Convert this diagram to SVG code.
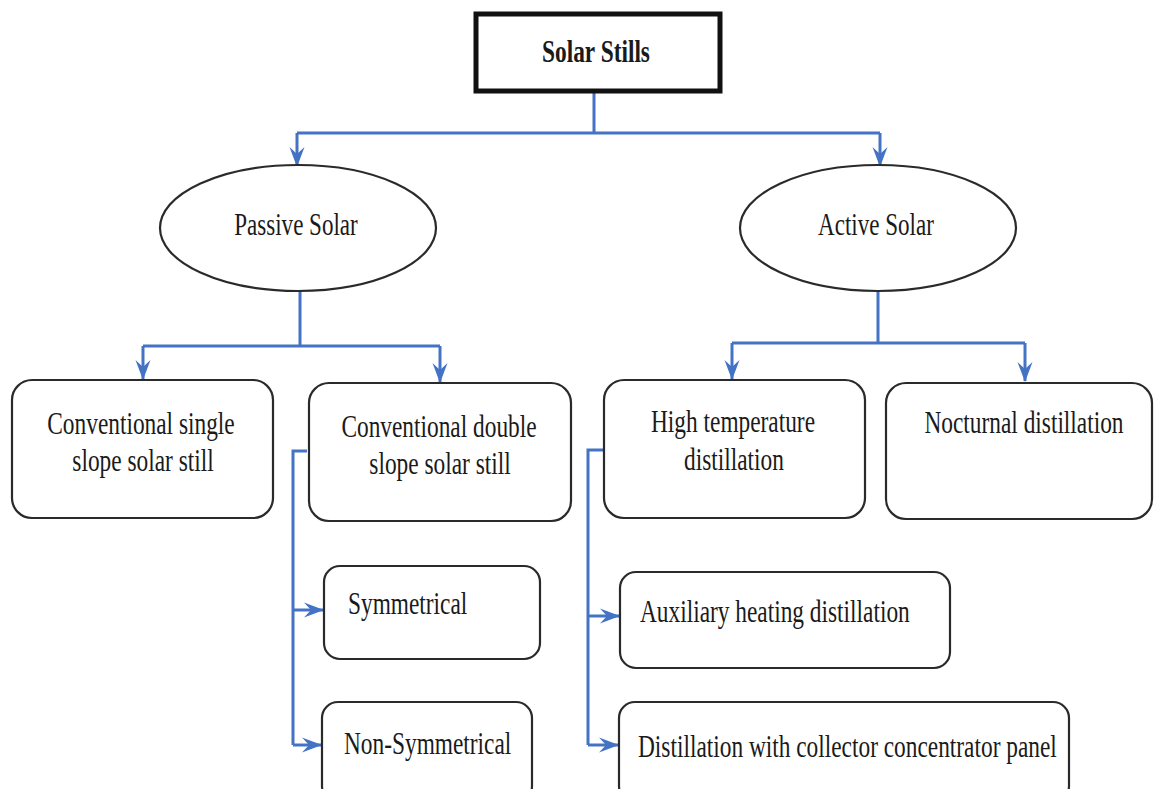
<svg xmlns="http://www.w3.org/2000/svg" width="1155" height="789" viewBox="0 0 1155 789">
<defs>
<style>
.box{fill:#fff;stroke:#2a2a2a;stroke-width:2.2}
.ell{fill:#fff;stroke:#2a2a2a;stroke-width:2.2}
.t{font-family:"Liberation Serif","Times New Roman",serif;font-size:32px;fill:#1a1a1a;text-anchor:middle}
.tl{font-family:"Liberation Serif","Times New Roman",serif;font-size:32px;fill:#1a1a1a}
.c{fill:none;stroke:#4472C4;stroke-width:3}
</style>
<marker id="ah" viewBox="0 0 20 16" refX="19" refY="8" markerWidth="20" markerHeight="16" markerUnits="userSpaceOnUse" orient="auto">
<path d="M0,0.5 L20,8 L0,15.5 L7,8 Z" fill="#4472C4"/>
</marker>
</defs>
<rect width="1155" height="789" fill="#fff"/>
<g id="connectors">
<path class="c" d="M594,93 V133 M297,133 H880"/>
<path class="c" d="M297,133 V166" marker-end="url(#ah)"/>
<path class="c" d="M880,133 V166" marker-end="url(#ah)"/>
<path class="c" d="M300,291 V346 M143,346 H440"/>
<path class="c" d="M143,346 V379" marker-end="url(#ah)"/>
<path class="c" d="M440,346 V382" marker-end="url(#ah)"/>
<path class="c" d="M878,291 V343 M732,343 H1025"/>
<path class="c" d="M732,343 V379" marker-end="url(#ah)"/>
<path class="c" d="M1025,343 V381" marker-end="url(#ah)"/>
<path class="c" d="M307,451 H293 V745"/>
<path class="c" d="M293,610 H323" marker-end="url(#ah)"/>
<path class="c" d="M293,745 H321" marker-end="url(#ah)"/>
<path class="c" d="M604,450 H588 V745"/>
<path class="c" d="M588,616 H619" marker-end="url(#ah)"/>
<path class="c" d="M588,745 H618" marker-end="url(#ah)"/>
</g>
<g id="solar-stills">
<rect x="476" y="14" width="244" height="77" fill="#fff" stroke="#111" stroke-width="5"/>
<text class="t" transform="translate(596,62) scale(0.73,1)" font-weight="bold">Solar Stills</text>
</g>
<g id="passive-solar">
<ellipse class="ell" cx="298" cy="228" rx="138" ry="63"/>
<text class="t" transform="translate(296,235) scale(0.72,1)">Passive Solar</text>
</g>
<g id="active-solar">
<ellipse class="ell" cx="878" cy="228" rx="138" ry="63"/>
<text class="t" transform="translate(876,235) scale(0.72,1)">Active Solar</text>
</g>
<g id="conv-single">
<rect class="box" x="12" y="380" width="261" height="138" rx="20"/>
<text class="t" transform="translate(141,434) scale(0.73,1)">Conventional single</text>
<text class="t" transform="translate(143,471) scale(0.73,1)">slope solar still</text>
</g>
<g id="conv-double">
<rect class="box" x="309" y="383" width="262" height="138" rx="20"/>
<text class="t" transform="translate(439,437) scale(0.73,1)">Conventional double</text>
<text class="t" transform="translate(440,474) scale(0.73,1)">slope solar still</text>
</g>
<g id="high-temp">
<rect class="box" x="604" y="380" width="261" height="138" rx="20"/>
<text class="t" transform="translate(733,432) scale(0.73,1)">High temperature</text>
<text class="t" transform="translate(734,470) scale(0.73,1)">distillation</text>
</g>
<g id="nocturnal">
<rect class="box" x="886" y="383" width="266" height="136" rx="20"/>
<text class="t" transform="translate(1024,433) scale(0.73,1)">Nocturnal distillation</text>
</g>
<g id="symmetrical">
<rect class="box" x="324" y="566" width="216" height="93" rx="16"/>
<text class="tl" transform="translate(348,614) scale(0.73,1)">Symmetrical</text>
</g>
<g id="non-symmetrical">
<rect class="box" x="322" y="702" width="210" height="100" rx="16"/>
<text class="tl" transform="translate(344,754) scale(0.73,1)">Non-Symmetrical</text>
</g>
<g id="auxiliary">
<rect class="box" x="620" y="572" width="330" height="96" rx="16"/>
<text class="tl" transform="translate(640,622) scale(0.73,1)">Auxiliary heating distillation</text>
</g>
<g id="collector">
<rect class="box" x="619" y="702" width="450" height="100" rx="16"/>
<text class="tl" transform="translate(638,757) scale(0.73,1)">Distillation with collector concentrator panel</text>
</g>
</svg>
